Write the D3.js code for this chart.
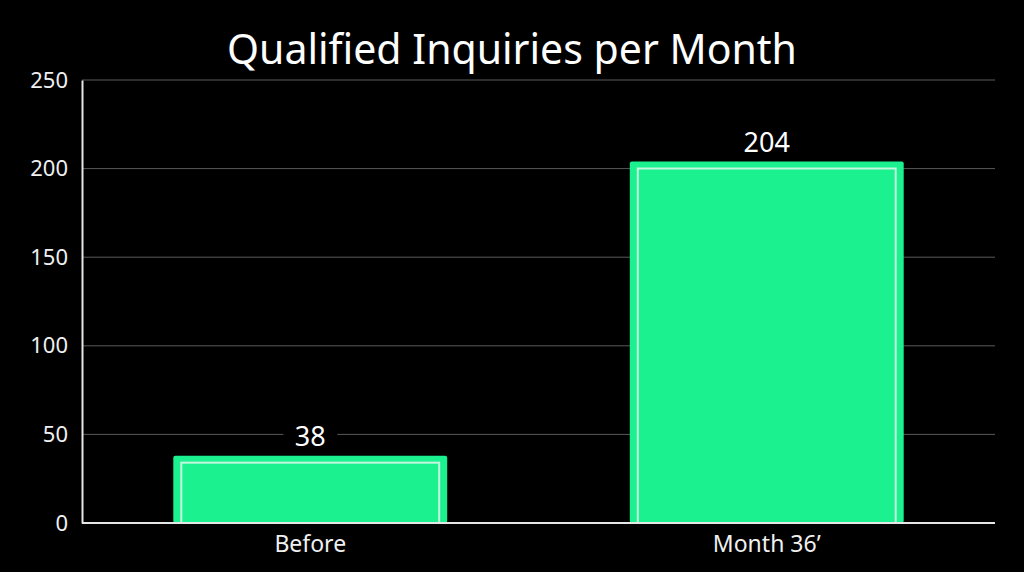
<!DOCTYPE html>
<html>
<head>
<meta charset="utf-8">
<script src="https://cdn.jsdelivr.net/npm/d3@7"></script>
<style>
  html, body { margin: 0; padding: 0; background: #000; }
  svg { display: block; }
</style>
</head>
<body>
<svg id="chart" width="1024" height="572"></svg>
<script>
const categories = ["Before", "Month 36\u2019"];
const values = [38, 204];
const yTicks = [0, 50, 100, 150, 200, 250];
const title = "Qualified Inquiries per Month";

const W = 1024, H = 572;
const margin = { left: 82, right: 29, top: 80, bottom: 49 };
const FONT = "'Noto Sans', 'Open Sans', sans-serif";

const svg = d3.select("#chart");
svg.append("rect").attr("width", W).attr("height", H).attr("fill", "#000");

const x = d3.scaleBand()
  .domain(categories)
  .range([margin.left, W - margin.right])
  .paddingInner(0.4)
  .paddingOuter(0.2);

const y = d3.scaleLinear()
  .domain([0, 250])
  .range([H - margin.bottom, margin.top]);

// title
svg.append("text")
  .attr("x", W / 2).attr("y", 64)
  .attr("text-anchor", "middle")
  .attr("fill", "#fff")
  .attr("font-family", FONT)
  .attr("font-size", 41)
  .text(title);

// gridlines
svg.append("g")
  .selectAll("line")
  .data(yTicks.filter(d => d > 0))
  .join("line")
  .attr("x1", margin.left).attr("x2", W - margin.right)
  .attr("y1", d => y(d)).attr("y2", d => y(d))
  .attr("stroke", "#5a5a5a").attr("stroke-width", 1);

// y axis
const yAxis = svg.append("g")
  .attr("transform", `translate(${margin.left},0)`)
  .call(d3.axisLeft(y).tickValues(yTicks).tickSize(0).tickPadding(14));
yAxis.select(".domain").attr("stroke", "#e6e6e6").attr("stroke-width", 2);
yAxis.selectAll("text")
  .attr("fill", "#f0f0f0")
  .attr("font-family", FONT)
  .attr("font-size", 22);

// bars
const bars = svg.append("g").selectAll("g").data(values).join("g");
bars.append("rect")
  .attr("x", (d, i) => x(categories[i]))
  .attr("y", d => y(d))
  .attr("width", x.bandwidth())
  .attr("height", d => y(0) - y(d))
  .attr("rx", 2)
  .attr("fill", "#1cf18f");
bars.append("rect")
  .attr("x", (d, i) => x(categories[i]) + 8)
  .attr("y", d => y(d) + 7)
  .attr("width", x.bandwidth() - 16)
  .attr("height", d => y(0) - y(d) - 7)
  .attr("fill", "none")
  .attr("stroke", "#c4f7df")
  .attr("stroke-width", 2);

// x baseline
svg.append("line")
  .attr("x1", margin.left).attr("x2", W - margin.right)
  .attr("y1", y(0)).attr("y2", y(0))
  .attr("stroke", "#e6e6e6").attr("stroke-width", 2);

// x labels
const xAxis = svg.append("g")
  .attr("transform", `translate(0,${y(0)})`)
  .call(d3.axisBottom(x).tickSize(0).tickPadding(13));
xAxis.select(".domain").remove();
xAxis.selectAll("text")
  .attr("fill", "#f0f0f0")
  .attr("font-family", FONT)
  .attr("font-size", 23);

// value labels with black knockout
const labels = svg.append("g").selectAll("g").data(values).join("g")
  .attr("transform", (d, i) => `translate(${x(categories[i]) + x.bandwidth() / 2},${y(d) - 10})`);
labels.append("rect")
  .attr("x", d => -String(d).length * 8.5 - 10)
  .attr("y", -26)
  .attr("width", d => String(d).length * 17 + 20)
  .attr("height", 28)
  .attr("fill", "#000");
labels.append("text")
  .attr("text-anchor", "middle")
  .attr("fill", "#fff")
  .attr("font-family", FONT)
  .attr("font-size", 27)
  .text(d => d);
</script>
</body>
</html>
